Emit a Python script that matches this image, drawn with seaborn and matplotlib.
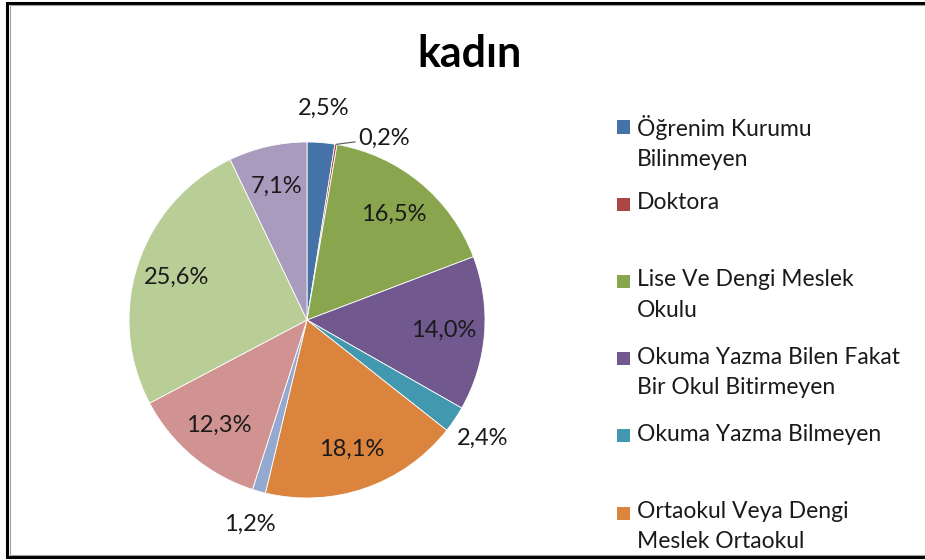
import textwrap
import matplotlib.pyplot as plt
import seaborn as sns
import numpy as np
from matplotlib.patches import Rectangle
from matplotlib.lines import Line2D

TITLE = "kadın"

categories = [
    "Öğrenim Kurumu Bilinmeyen",
    "Doktora",
    "Lise Ve Dengi Meslek Okulu",
    "Okuma Yazma Bilen Fakat Bir Okul Bitirmeyen",
    "Okuma Yazma Bilmeyen",
    "Ortaokul Veya Dengi Meslek Ortaokul",
    "Yüksek Lisans",
    "Yüksekokul Veya Fakülte",
    "İlkokul",
    "İlköğretim",
]
shares = [2.5, 0.2, 16.5, 14.0, 2.4, 18.1, 1.2, 12.3, 25.6, 7.1]
slice_colors = ["#4572A7", "#AA4643", "#89A54E", "#71588F", "#4198AF",
                "#DB843D", "#93A9CF", "#D19392", "#B9CD96", "#A99BBD"]

W, H = 925, 560  # figure size in px
TEXT_COLOR = "#1a1a1a"


def pct_label(v):
    return f"{v:.1f}".replace(".", ",") + "%"


def px(x, y):
    # pixel coords (origin top-left) -> figure fraction
    return x / W, 1 - y / H


def frame_line(fig, pts, color, lw):
    xs, ys = zip(*[px(x, y) for x, y in pts])
    fig.add_artist(Line2D(xs, ys, transform=fig.transFigure, color=color,
                          linewidth=lw, solid_joinstyle="miter"))


def main():
    sns.set_theme(style="white")
    plt.rcParams["font.family"] = ["Lato", "DejaVu Sans"]

    fig = plt.figure(figsize=(W / 100, H / 100), dpi=100)
    fig.patch.set_facecolor("white")

    # pie placed so centre ~ (307, 320) px, radius ~178 px
    cx, cy, r = 307, 320, 178
    ax = fig.add_axes([(cx - r) / W, (H - cy - r) / H, 2 * r / W, 2 * r / H])
    wedges, _ = ax.pie(shares, colors=sns.color_palette(slice_colors),
                       startangle=90, counterclock=False,
                       wedgeprops=dict(linewidth=0.6, edgecolor="white"))
    ax.set_xlim(-1, 1)
    ax.set_ylim(-1, 1)
    ax.axis("off")

    # data labels: inside for big slices, outside for the thin ones
    for w, v in zip(wedges, shares):
        ang = np.deg2rad((w.theta1 + w.theta2) / 2)
        if v < 1:
            # tiny slice gets a leader line
            edge = (np.cos(ang), np.sin(ang))
            a2 = ang - np.deg2rad(6)
            ax.annotate(pct_label(v), xy=edge, xytext=(1.09 * np.cos(a2), 1.06 * np.sin(a2)),
                        ha="left", va="center", fontsize=17, color=TEXT_COLOR,
                        arrowprops=dict(arrowstyle="-", color="#555555", lw=0.8,
                                        shrinkA=0, shrinkB=0),
                        annotation_clip=False)
        elif v < 3:
            ax.text(1.19 * np.cos(ang), 1.19 * np.sin(ang), pct_label(v),
                    ha="center", va="center", fontsize=17, color=TEXT_COLOR, clip_on=False)
        else:
            ax.text(0.77 * np.cos(ang), 0.77 * np.sin(ang), pct_label(v),
                    ha="center", va="center", fontsize=17, color=TEXT_COLOR)

    fig.text(*px(470, 54), TITLE, ha="center", va="center",
             fontsize=31, fontweight="bold", color="black")

    # legend, drawn Excel-style: fixed slot per entry, marker on the first line
    for i, (name, col) in enumerate(zip(categories, slice_colors)):
        yc = 127 + i * 77.2
        fig.add_artist(Rectangle(px(617, yc + 6.5), 13 / W, 13 / H,
                                 transform=fig.transFigure, facecolor=col,
                                 edgecolor="none"))
        fig.text(*px(637, yc - 12), textwrap.fill(name, 23), ha="left", va="top",
                 fontsize=16.5, linespacing=1.55, color=TEXT_COLOR)

    # chart frame: left, top and bottom only (right side runs off the picture)
    frame_line(fig, [(W + 5, 2.5), (7, 2.5), (7, 557), (W + 5, 557)], "black", 2.2)
    frame_line(fig, [(W + 5, 5), (9.5, 5), (9.5, 554.5), (W + 5, 554.5)], "#a0a0a0", 0.8)

    fig.savefig("out.png", dpi=100)
    plt.close(fig)


if __name__ == "__main__":
    main()
